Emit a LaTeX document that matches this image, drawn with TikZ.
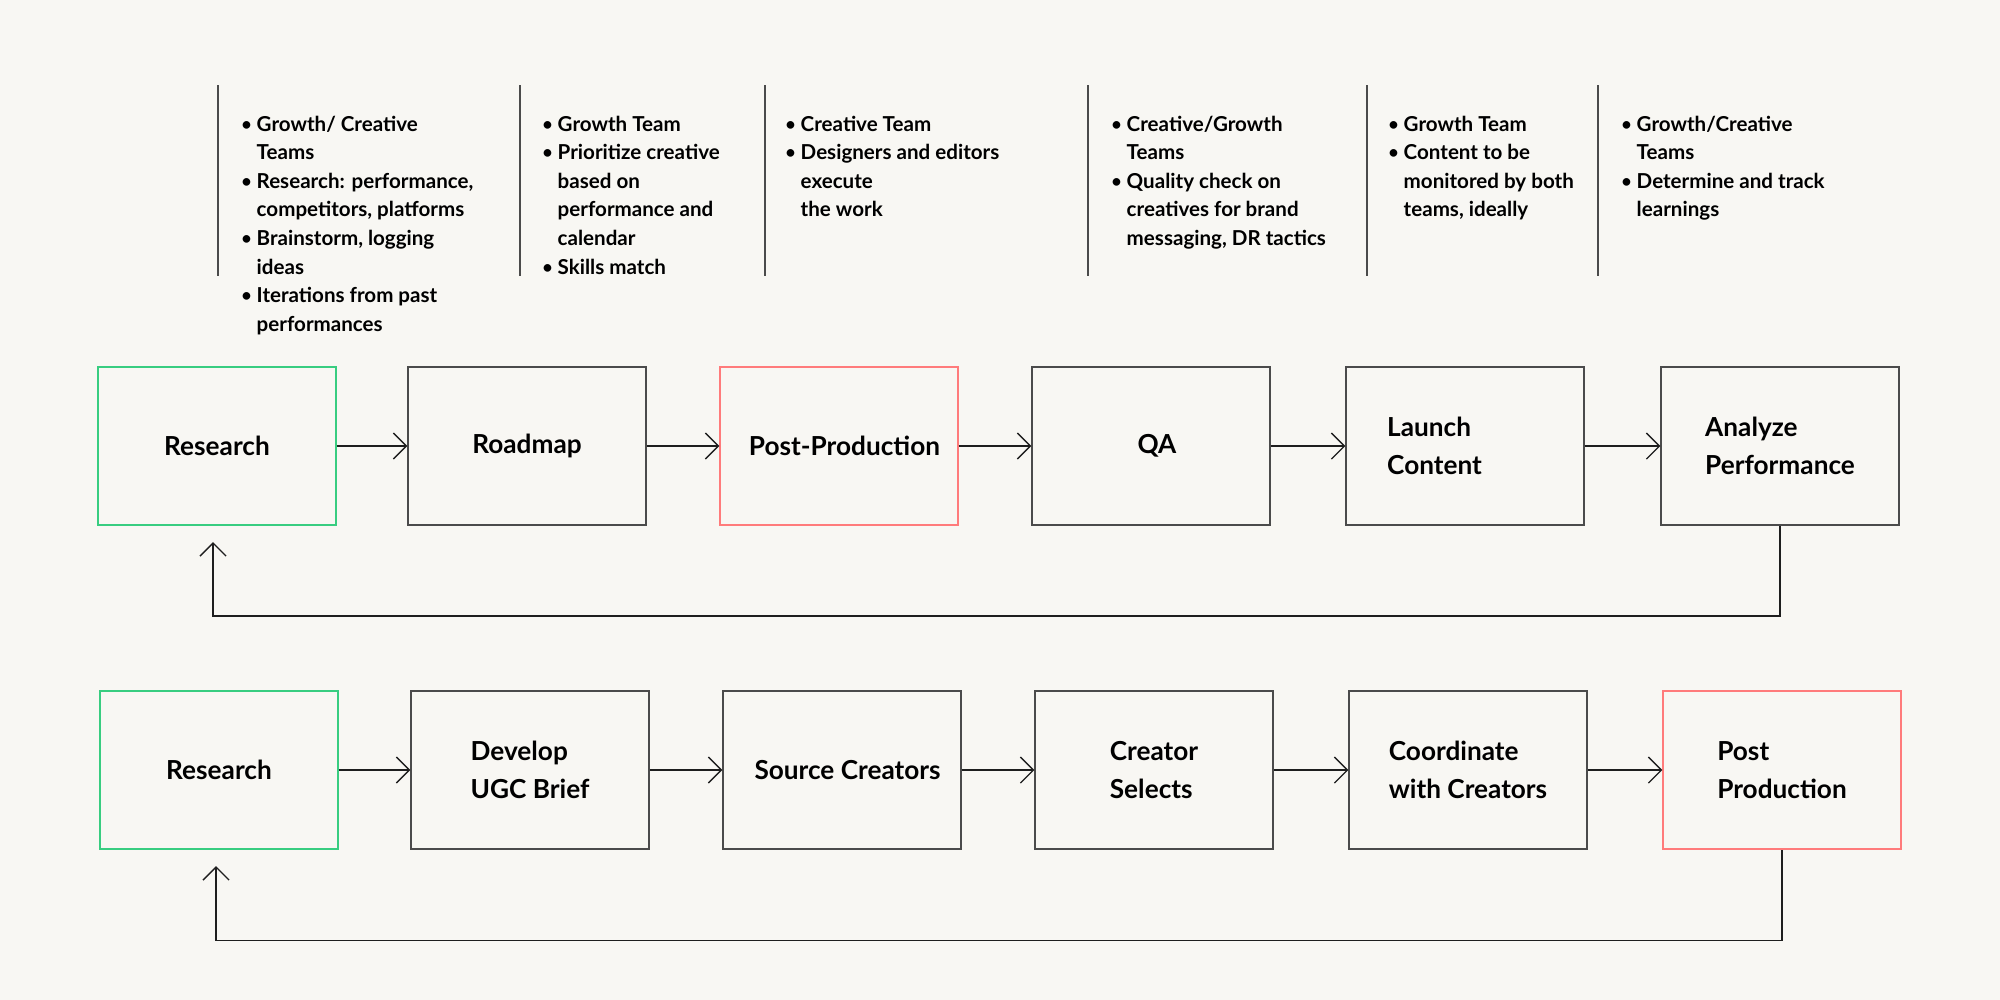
\documentclass[tikz,border=0pt]{standalone}
\usepackage{fontspec}
\setmainfont{Lato}
\usetikzlibrary{arrows.meta}

\definecolor{paper}{HTML}{F8F7F3}
\definecolor{boxgray}{HTML}{4B4B4B}
\definecolor{startgreen}{HTML}{38CD80}
\definecolor{postred}{HTML}{FF7B7B}
\definecolor{inkdark}{HTML}{1E1E1E}

\newcommand{\labelfont}{\fontsize{7.45}{10.8}\selectfont\bfseries}
\newcommand{\notefont}{\fontsize{5.85}{8.15}\selectfont\bfseries}
\newcommand{\dotmark}{{\mdseries\textbullet}}

\tikzstyle{stagebox}=[draw=boxgray,line width=0.55pt,minimum width=2.37cm,minimum height=1.58cm,inner sep=0pt,font=\labelfont,align=left]
\tikzstyle{start box}=[stagebox,draw=startgreen]
\tikzstyle{post box}=[stagebox,draw=postred]
\tikzstyle{flow edge}=[draw,inkdark,line width=0.4pt,-{Straight Barb[length=1.3mm,width=2.6mm]}]
\tikzstyle{loop edge}=[flow edge]
\tikzstyle{divider}=[draw,boxgray,line width=0.4pt]
\tikzstyle{notes}=[anchor=base west,inner sep=0pt,font=\notefont]

\begin{document}
\begin{tikzpicture}[x=0.01cm,y=-0.01cm]
	\fill[paper] (0,0) rectangle (2000,1000);
	% team notes above the first flow
	\foreach \name/\x in {d1/218,d2/520,d3/765,d4/1088,d5/1367,d6/1598}
		\path[divider] (\x,85) -- (\x,276);
	\node[notes] (noteresearch) at (240,131) {\begin{tabular}[t]{@{}p{1.6mm}@{}l@{}}
		\dotmark & Growth/ Creative\\ & Teams\\
		\dotmark & Research: performance,\\ & competitors, platforms\\
		\dotmark & Brainstorm, logging\\ & ideas\\
		\dotmark & Iterations from past\\ & performances\end{tabular}};
	\node[notes] (noteroadmap) at (541,131) {\begin{tabular}[t]{@{}p{1.6mm}@{}l@{}}
		\dotmark & Growth Team\\
		\dotmark & Prioritize creative\\ & based on\\ & performance and\\ & calendar\\
		\dotmark & Skills match\end{tabular}};
	\node[notes] (notepost) at (784,131) {\begin{tabular}[t]{@{}p{1.6mm}@{}l@{}}
		\dotmark & Creative Team\\
		\dotmark & Designers and editors\\ & execute\\ & the work\end{tabular}};
	\node[notes] (noteqa) at (1110,131) {\begin{tabular}[t]{@{}p{1.6mm}@{}l@{}}
		\dotmark & Creative/Growth\\ & Teams\\
		\dotmark & Quality check on\\ & creatives for brand\\ & messaging, DR tactics\end{tabular}};
	\node[notes] (notelaunch) at (1387,131) {\begin{tabular}[t]{@{}p{1.6mm}@{}l@{}}
		\dotmark & Growth Team\\
		\dotmark & Content to be\\ & monitored by both\\ & teams, ideally\end{tabular}};
	\node[notes] (noteanalyze) at (1620,131) {\begin{tabular}[t]{@{}p{1.6mm}@{}l@{}}
		\dotmark & Growth/Creative\\ & Teams\\
		\dotmark & Determine and track\\ & learnings\end{tabular}};

	% first flow: in-house content
	\node[start box] (research) at (217,446) {Research};
	\node[stagebox] (roadmap) at (527,446) {Roadmap};
	\node[post box] (postprod) at (839,446) {\hspace*{1.1mm}Post-Production};
	\node[stagebox] (qa) at (1151,446) {\hspace*{1.2mm}QA};
	\node[stagebox] (launch) at (1465,446) {Launch\\Content\hspace*{6.1mm}};
	\node[stagebox] (analyze) at (1780,446) {Analyze\\Performance};
	\foreach \source/ \dest in {research/roadmap,roadmap/postprod,postprod/qa,qa/launch,launch/analyze}
		\path[flow edge] (\source) -- (\dest);
	\coordinate (backresearch) at (213,542);
	\path[loop edge] (analyze.south) -- ++(0,90) -| (backresearch);

	% second flow: UGC creators
	\node[start box] (ugcresearch) at (219,770) {Research};
	\node[stagebox] (brief) at (530,770) {Develop\\UGC Brief};
	\node[stagebox] (source) at (842,770) {\hspace*{1.1mm}Source Creators};
	\node[stagebox] (selects) at (1154,770) {Creator\\Selects};
	\node[stagebox] (coordinate) at (1468,770) {Coordinate\\with Creators};
	\node[post box] (ugcpost) at (1782,770) {Post\\Production};
	\foreach \source/ \dest in {ugcresearch/brief,brief/source,source/selects,selects/coordinate,coordinate/ugcpost}
		\path[flow edge] (\source) -- (\dest);
	\coordinate (backugc) at (216,866);
	\path[loop edge] (ugcpost.south) -- ++(0,90.5) -| (backugc);
\end{tikzpicture}
\end{document}
